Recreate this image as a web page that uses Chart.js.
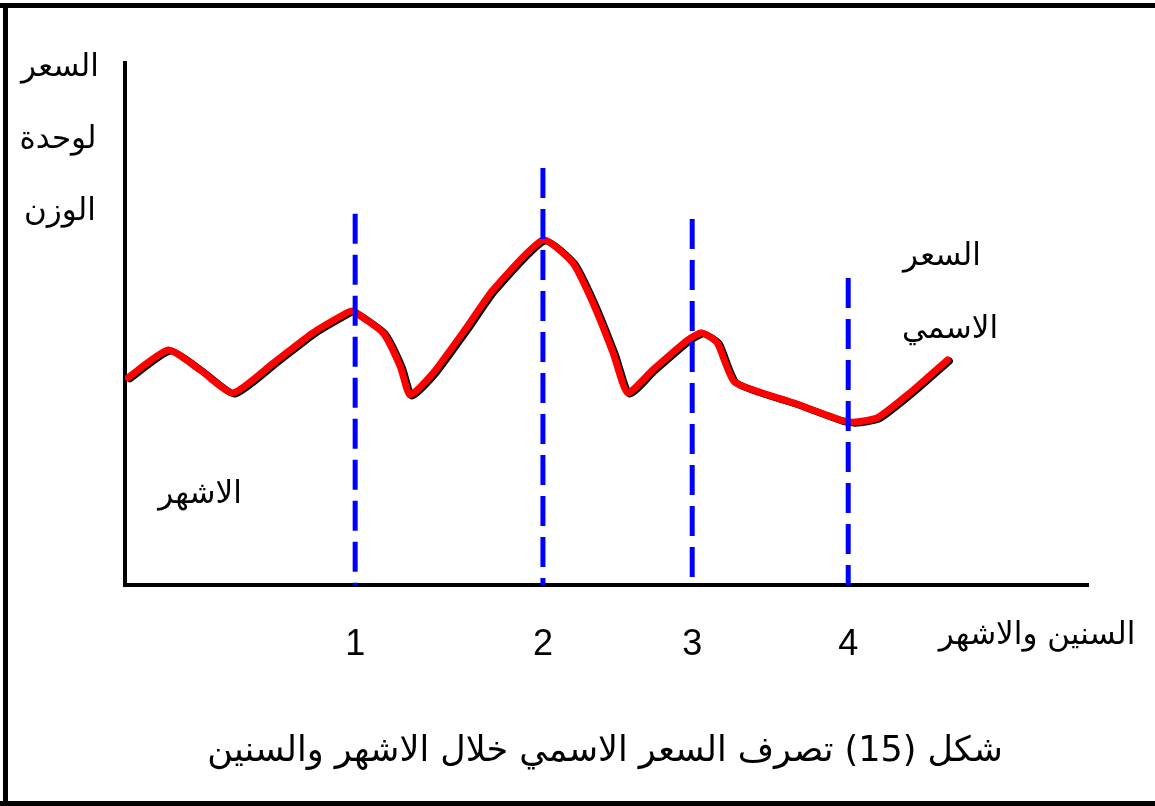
<!DOCTYPE html>
<html>
<head>
<meta charset="utf-8">
<script src="https://cdn.jsdelivr.net/npm/chart.js@4/dist/chart.umd.min.js"></script>
<style>
body{margin:0;background:#fff}
canvas{display:block}
</style>
</head>
<body>
<canvas id="grafico" width="1155" height="806"></canvas>
<script>
// curva do preco nominal (meses)
var meses = [0.3, 4.5, 7.8, 11.2, 15.4, 19.5, 23.0, 23.6, 26.8, 28.6, 29.6, 32.0, 35.5, 38.2, 43.4, 46.5, 48.6, 50.7, 52.2, 54.8, 58.4, 59.9, 61.5, 63.3, 69.4, 74.3, 75.6, 78.1, 81.5, 85.4];
var preco = [39.7, 45.0, 41.2, 36.8, 42.5, 48.3, 52.1, 52.5, 48.3, 41.8, 36.4, 40.6, 49.4, 56.5, 66.1, 61.7, 54.0, 44.4, 36.8, 41.2, 46.9, 48.3, 46.4, 38.9, 34.9, 31.6, 31.2, 32.0, 36.8, 43.1];

// anos marcados no eixo
var anos = [23.9, 43.4, 58.9, 75.1];
var anos_rotulos = ["1", "2", "3", "4"];
var anos_altura = [71.1, 79.9, 70.1, 58.8];

var fonte_ar = "'DejaVu Sans', sans-serif";

var datasets = [];
anos.forEach(function(a, i){
    datasets.push({
        data: [{x: a, y: anos_altura[i]}, {x: a, y: 0}],
        borderColor: "#0000ff",
        borderWidth: 5,
        borderDash: [30, 11],
        pointRadius: 0,
        tension: 0,
        order: 0
    });
});
datasets.push({
    data: meses.map(function(m, i){ return {x: m, y: preco[i]}; }),
    borderColor: "#ff0000",
    borderWidth: 7,
    pointRadius: 0,
    tension: 0.18,
    borderCapStyle: "round",
    borderJoinStyle: "round",
    order: 1,
    sombra: true
});

var textos = {
    id: "textos",
    beforeDatasetDraw: function(chart, args){
        if (!args.meta._dataset.sombra) return;
        var ctx = chart.ctx;
        ctx.save();
        ctx.shadowColor = "#000";
        ctx.shadowBlur = 0;
        ctx.shadowOffsetX = 2;
        ctx.shadowOffsetY = 1;
    },
    afterDatasetDraw: function(chart, args){
        if (!args.meta._dataset.sombra) return;
        chart.ctx.restore();
    },
    afterDraw: function(chart){
        var ctx = chart.ctx;
        ctx.save();
        // moldura
        ctx.fillStyle = "#000";
        ctx.fillRect(0, 3, 1155, 5);
        ctx.fillRect(3, 3, 5, 803);
        ctx.fillRect(0, 801, 1155, 5);

        ctx.direction = "rtl";
        ctx.textAlign = "center";
        ctx.textBaseline = "middle";
        ctx.fillStyle = "#000";
        ctx.font = "31px " + fonte_ar;
        ctx.fillText("السعر", 60, 68);
        ctx.fillText("لوحدة", 58, 140);
        ctx.fillText("الوزن", 60, 212);
        ctx.fillText("السعر", 942, 257);
        ctx.fillText("الاسمي", 950, 330);
        ctx.fillText("الاشهر", 200, 495);
        ctx.fillText("السنين والاشهر", 1037, 636);
        ctx.font = "35px " + fonte_ar;
        ctx.fillText("شكل (15) تصرف السعر الاسمي خلال الاشهر والسنين", 605, 752);
        ctx.restore();
    }
};

var ctx = document.getElementById("grafico").getContext("2d");
var grafico = new Chart(ctx, {
    type: "line",
    data: {datasets: datasets},
    options: {
        responsive: false,
        animation: false,
        events: [],
        layout: {padding: {left: 125, right: 67, top: 63, bottom: 121}},
        plugins: {legend: {display: false}, tooltip: {enabled: false}},
        scales: {
            x: {
                type: "linear",
                min: 0,
                max: 100,
                grid: {display: false},
                border: {display: true, color: "#000", width: 4},
                afterBuildTicks: function(scale){
                    scale.ticks = anos.map(function(a){ return {value: a}; });
                },
                afterFit: function(scale){ scale.height = 100; },
                ticks: {
                    autoSkip: false,
                    maxRotation: 0,
                    padding: 30,
                    color: "#000",
                    font: {family: "'Liberation Sans', Arial, sans-serif", size: 36},
                    callback: function(v, i){ return anos_rotulos[i]; }
                }
            },
            y: {
                min: 0,
                max: 100,
                grid: {display: false},
                ticks: {display: false},
                border: {display: true, color: "#000", width: 4},
                afterFit: function(scale){ scale.width = 0; }
            }
        }
    },
    plugins: [textos]
});
</script>
</body>
</html>
